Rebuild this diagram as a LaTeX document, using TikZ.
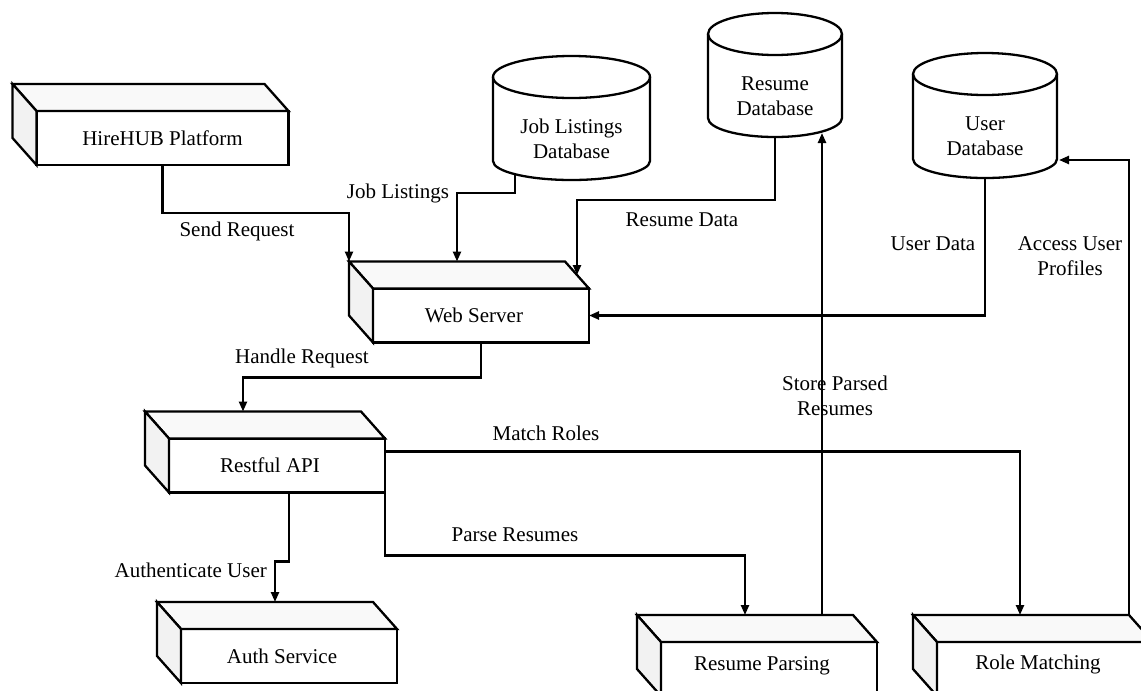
\documentclass[tikz,border=0pt]{standalone}
\usepackage{fontspec}
\setmainfont{Liberation Serif}
\usetikzlibrary{arrows.meta,calc}

\definecolor{topface}{gray}{0.975}
\definecolor{sideface}{gray}{0.95}

% back corners, top face and left face of a server box
\newcommand\boxfaces[1]{%
  \coordinate (#1-bnw) at ($(#1.north west)+(-24,-27)$);
  \coordinate (#1-bne) at ($(#1.north east)+(-24,-27)$);
  \coordinate (#1-bsw) at ($(#1.south west)+(-24,-27)$);
  \draw[outline, fill=topface] (#1.north west) -- (#1-bnw) -- (#1-bne) -- (#1.north east) -- cycle;
  \draw[outline, fill=sideface] (#1.north west) -- (#1-bnw) -- (#1-bsw) -- (#1.south west) -- cycle;
}

% database cylinder around a node; #2 = half width
\newcommand\dbshape[2]{%
  \draw[outline] ($(#1.north)+(0,-21)$) ellipse[x radius=#2, y radius=21];
  \draw[outline] ($(#1.north west)+(0,-21)$) -- ($(#1.south west)+(0,-19)$)
    .. controls +(0,10.5) and +(-0.5523*#2,0) .. (#1.south)
    .. controls +(0.5523*#2,0) and +(0,10.5) .. ($(#1.south east)+(0,-19)$)
    -- ($(#1.north east)+(0,-21)$);
}

\begin{document}
\begin{tikzpicture}[x=1pt, y=-1pt,
  font=\fontsize{21}{25}\selectfont,
  outline/.style={line width=2.3pt},
  srv/.style={draw, fill=white, line width=2.3pt, minimum width=216, minimum height=54,
              inner sep=0pt, outer sep=0pt},
  leftset/.style={execute at begin node={\hspace*{-14pt}}},
  dbnode/.style={inner sep=0pt, outer sep=0pt, align=center},
  conn/.style={line width=2.3pt, -{Triangle[length=10pt,width=8pt]}},
  lbl/.style={inner sep=0pt, align=center}]

\useasboundingbox (0,0) rectangle (1141,691);
\fill[white] (0,0) rectangle (1141,691);
\clip (0,0) rectangle (1141,691);

% services
\node[srv, minimum width=252] (hire) at (162.5,138) {HireHUB Platform};
\node[srv, leftset] (web)   at (481,315.5) {Web Server};
\node[srv, leftset] (api)   at (277,465.5) {Restful API};
\node[srv, leftset] (auth)  at (289,656)   {Auth Service};
\node[srv, leftset, text depth=10pt] (parse) at (769,669) {Resume Parsing};
\node[srv, leftset, text depth=14pt] (role)  at (1045,669) {Role Matching};
\foreach \b in {hire,web,api,auth,parse,role} {\boxfaces{\b}}

% databases
\node[dbnode, minimum width=157, minimum height=82] (jobdb)  at (571.5,139) {Job Listings\\Database};
\node[dbnode, minimum width=134, minimum height=82] (resdb)  at (775,96)    {Resume\\Database};
\node[dbnode, minimum width=144, minimum height=83] (userdb) at (985,136.5) {User\\Database};
\dbshape{jobdb}{78.5}
\dbshape{resdb}{67}
\dbshape{userdb}{72}

% connectors
\draw[conn] (hire.south) -- ++(0,48) -| (web-bnw);
\draw[conn] ($(jobdb.south)+(-56.5,-6)$) -- ++(0,19) -| ($(web-bnw)+(108,0)$);
\draw[conn] (resdb.south) -- ++(0,63) -| ($(web-bne)!0.5!(web.north east)$);
\draw[conn] (userdb.south) |- (web.east);
\draw[conn] (web.south) -- ++(0,35) -| ($(api-bnw)+(98,0)$);
\draw[conn] ($(api.north east)+(0,13)$) -| ($(role-bnw)+(107,0)$);
\draw[conn] (api.south east) -- ++(0,63) -| ($(parse-bnw)+(108,0)$);
\draw[conn] ($(api.south)+(12,0)$) -- ++(0,69) -| ($(auth-bnw)+(118,0)$);
\draw[conn] ($(parse-bnw)+(185,0)$) -- ($(resdb.south)+(47,-4)$);
\draw[conn] (role-bne) |- ($(userdb.south east)+(2,-18)$);

% connector labels
\node[lbl] (l1)  at (237,231) {Send Request};
\node[lbl] (l2)  at (398,193) {Job Listings};
\node[lbl] (l3)  at (682,220) {Resume Data};
\node[lbl] (l4)  at (933,244) {User Data};
\node[lbl] (l5)  at (1070,256) {Access User\\Profiles};
\node[lbl] (l6)  at (302,358) {Handle Request};
\node[lbl] (l7)  at (546,433) {Match Roles};
\node[lbl] (l8)  at (515,535) {Parse Resumes};
\node[lbl, anchor=east] (l9) at (267,570) {Authenticate User};
\node[lbl] (l10) at (835,396) {Store Parsed\\Resumes};
\end{tikzpicture}
\end{document}
